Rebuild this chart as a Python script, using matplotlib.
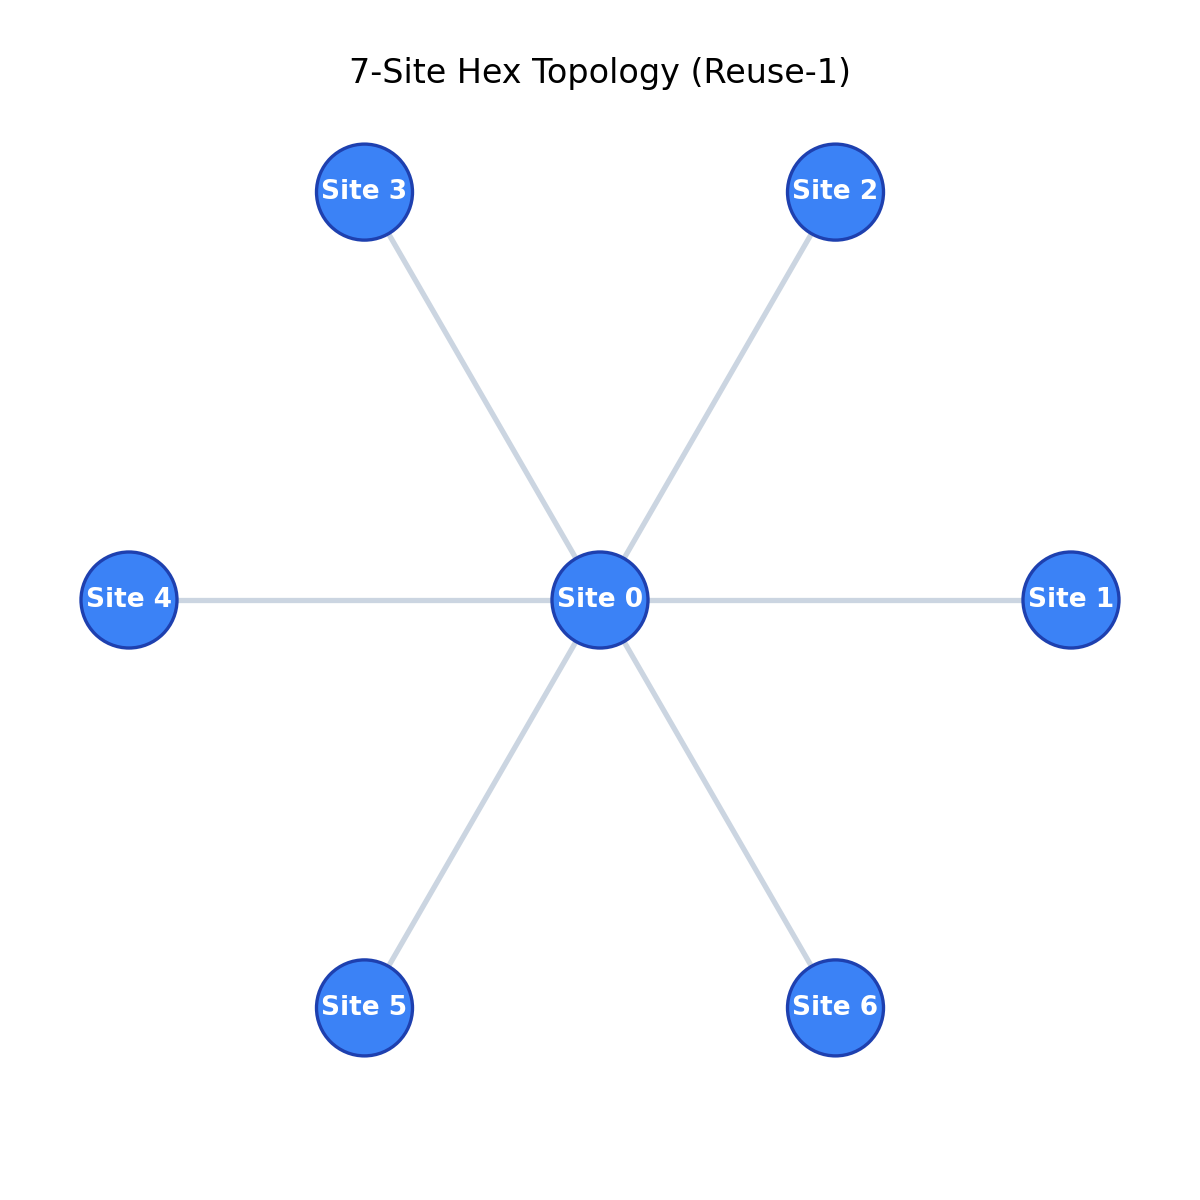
import numpy as np
import matplotlib.pyplot as plt
from matplotlib.patches import Circle

# site layout: center plus 6 neighbours on a unit hexagon
site_names = ["Site 0", "Site 1", "Site 2", "Site 3", "Site 4", "Site 5", "Site 6"]
site_angles_deg = [None, 0, 60, 120, 180, 240, 300]
links = [(0, 1), (0, 2), (0, 3), (0, 4), (0, 5), (0, 6)]

xs, ys = [], []
for a in site_angles_deg:
    if a is None:
        xs.append(0.0); ys.append(0.0)
    else:
        xs.append(np.cos(np.radians(a))); ys.append(np.sin(np.radians(a)))

fig = plt.figure(figsize=(6, 6), dpi=200)
ax = fig.add_axes([0, 0, 1, 1])
lim = 600 / 471
ax.set_xlim(-lim, lim)
ax.set_ylim(-lim, lim)
ax.set_aspect("equal")
ax.axis("off")

for i, j in links:
    ax.plot([xs[i], xs[j]], [ys[i], ys[j]], color="#cbd5e1", lw=1.9, zorder=1)

r = 48 / 471
for x, y, name in zip(xs, ys, site_names):
    ax.add_patch(Circle((x, y), r, facecolor="#3b82f6", edgecolor="#1e40af", lw=1.2, zorder=2))
    ax.text(x, y, name, ha="center", va="center", color="white",
            fontsize=9.5, fontweight="bold", zorder=3)

fig.text(0.5, 1 - 73 / 1200, "7-Site Hex Topology (Reuse-1)", ha="center", va="center", fontsize=12)
fig.savefig("out.png", dpi=200)
